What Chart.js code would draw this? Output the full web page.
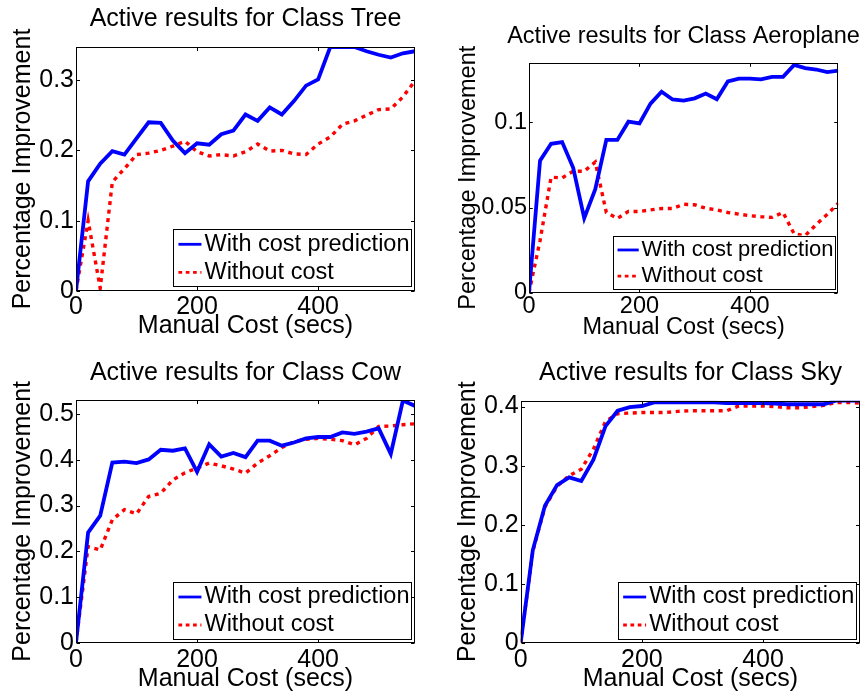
<!DOCTYPE html>
<html>
<head>
<meta charset="utf-8">
<script src="https://cdn.jsdelivr.net/npm/chart.js@4.4.1/dist/chart.umd.min.js"></script>
<style>
html,body{margin:0;padding:0;background:#fff;width:865px;height:698px;overflow:hidden;position:relative}
canvas{position:absolute}
</style>
</head>
<body>
<canvas id="c1" width="491" height="349" style="left:0px;top:0px"></canvas>
<canvas id="c2" width="503" height="349" style="left:432px;top:0px"></canvas>
<canvas id="c3" width="491" height="349" style="left:0px;top:349px"></canvas>
<canvas id="c4" width="517" height="349" style="left:432px;top:349px"></canvas>
<script>
// ---- data ----
const cost = [0,20,40,60,80,100,120,140,160,180,200,220,240,260,280,300,320,340,360,380,400,420,440,460,480,500,520,540,560];
const seriesLabels = ['With cost prediction', 'Without cost'];
const xTickValues = [0, 200, 400];

const treeWith    = [0,0.156,0.181,0.199,0.194,0.217,0.240,0.239,0.214,0.196,0.210,0.208,0.223,0.228,0.251,0.242,0.261,0.251,0.270,0.292,0.301,0.347,0.347,0.347,0.341,0.336,0.332,0.338,0.341];
const treeWithout = [0,0.100,0.004,0.155,0.174,0.194,0.196,0.200,0.206,0.213,0.198,0.192,0.194,0.192,0.198,0.209,0.199,0.200,0.195,0.194,0.209,0.219,0.237,0.242,0.250,0.258,0.259,0.276,0.299];
const treeTicks   = [0, 0.1, 0.2, 0.3];

const aeroWith    = [0,0.0775,0.0874,0.0884,0.0733,0.0438,0.0607,0.0897,0.0897,0.1004,0.0994,0.111,0.118,0.1134,0.1128,0.1141,0.1169,0.1136,0.124,0.1256,0.1256,0.1252,0.1267,0.1267,0.1337,0.1318,0.131,0.1295,0.1304];
const aeroWithout = [0,0.0306,0.0678,0.0674,0.0713,0.0713,0.0767,0.0471,0.0436,0.0477,0.0477,0.0486,0.0494,0.0494,0.0519,0.0516,0.0496,0.0486,0.0471,0.0461,0.0452,0.0446,0.0442,0.0471,0.0345,0.0335,0.040,0.046,0.0525];
const aeroTicks   = [0, 0.05, 0.1];

const cowWith     = [0,0.241,0.278,0.394,0.396,0.393,0.401,0.422,0.420,0.425,0.374,0.434,0.407,0.415,0.406,0.442,0.442,0.431,0.438,0.447,0.450,0.450,0.460,0.457,0.462,0.469,0.413,0.530,0.518];
const cowWithout  = [0,0.210,0.203,0.269,0.291,0.282,0.320,0.327,0.356,0.372,0.382,0.393,0.387,0.380,0.371,0.393,0.409,0.427,0.440,0.445,0.447,0.445,0.442,0.433,0.447,0.473,0.474,0.477,0.479];
const cowTicks    = [0, 0.1, 0.2, 0.3, 0.4, 0.5];

const skyWith     = [0,0.157,0.232,0.267,0.280,0.274,0.310,0.367,0.393,0.399,0.401,0.407,0.407,0.407,0.407,0.407,0.407,0.406,0.406,0.406,0.406,0.405,0.404,0.404,0.404,0.404,0.410,0.410,0.410];
const skyWithout  = [0,0.155,0.230,0.265,0.283,0.294,0.328,0.375,0.388,0.389,0.390,0.390,0.390,0.392,0.393,0.393,0.393,0.393,0.401,0.401,0.401,0.400,0.398,0.398,0.400,0.402,0.407,0.407,0.406];
const skyTicks    = [0, 0.1, 0.2, 0.3, 0.4];

const titles = ['Active results for Class Tree','Active results for Class Aeroplane','Active results for Class Cow','Active results for Class Sky'];
const xTitle = 'Manual Cost (secs)';
const yTitle = 'Percentage Improvement';

// ---- layout / style ----
const FONT = '"Liberation Sans", Arial, Helvetica, sans-serif';
const panels = [
  {id:'c1', title:titles[0], a:treeWith, b:treeWithout, yTicks:treeTicks, yMax:0.347, font:25, leg:23.5, tPad:[4,13],    yW:76,   rW:76,   xH:58,   xTickPad:1,   xTitlePad:7.7, yTitleX:23.5, legR:4,   legB:5},
  {id:'c2', title:titles[1], a:aeroWith, b:aeroWithout, yTicks:aeroTicks, yMax:0.135, font:23.5, leg:22, tPad:[22.8,11.7], yW:97,  rW:96.7, xH:56.3, xTickPad:0.2, xTitlePad:7.0, yTitleX:36.5, legR:3.3, legB:3.7},
  {id:'c3', title:titles[2], a:cowWith,  b:cowWithout,  yTicks:cowTicks,  yMax:0.531, font:25, leg:23.5, tPad:[9,12],    yW:76,   rW:76,   xH:55.3, xTickPad:2.3, xTitlePad:3.4, yTitleX:23.5, legR:4,   legB:4},
  {id:'c4', title:titles[3], a:skyWith,  b:skyWithout,  yTicks:skyTicks,  yMax:0.41,  font:25, leg:23.5, tPad:[9,12.7],  yW:88.7, rW:89,   xH:55.3, xTickPad:2.3, xTitlePad:3.4, yTitleX:36,   legR:4.3, legB:4}
];

function framePlugin(p) {
  return {
    id: 'frame_' + p.id,
    afterDatasetsDraw(chart) {
      const ctx = chart.ctx, a = chart.chartArea, sx = chart.scales.x, sy = chart.scales.y;
      const s = p.leg / 23.5;
      ctx.save();
      // legend
      ctx.font = p.leg + 'px ' + FONT;
      const tw = ctx.measureText(seriesLabels[0]).width;
      const bw = 31 * s + tw + 1.5, bh = 57 * s;
      const bx = a.right - p.legR - bw, by = a.bottom - p.legB - bh;
      ctx.fillStyle = '#fff';
      ctx.fillRect(bx, by, bw, bh);
      ctx.strokeStyle = '#000'; ctx.lineWidth = 1;
      ctx.strokeRect(Math.round(bx) + 0.5, Math.round(by) + 0.5, Math.round(bw), Math.round(bh));
      const rows = [by + 15.3 * s, by + 43.3 * s];
      const ds = chart.data.datasets;
      for (let i = 0; i < 2; i++) {
        ctx.beginPath();
        ctx.strokeStyle = ds[i].borderColor;
        ctx.lineWidth = 2.8;
        ctx.setLineDash(i === 0 ? [] : [3.7, 3.6]);
        ctx.moveTo(bx + 5, rows[i]); ctx.lineTo(bx + 28 * s, rows[i]);
        ctx.stroke();
        ctx.setLineDash([]);
        ctx.fillStyle = '#000';
        ctx.textAlign = 'left'; ctx.textBaseline = 'middle';
        ctx.fillText(ds[i].label, bx + 31 * s, rows[i]);
      }
      // frame box
      ctx.strokeStyle = '#000'; ctx.lineWidth = 1;
      const L = Math.round(a.left) + 0.5, R = Math.round(a.right) - 0.5, T = Math.round(a.top) + 0.5, B = Math.round(a.bottom) - 0.5;
      ctx.strokeRect(L, T, R - L, B - T);
      // inward tick marks on all four sides
      const tl = 3.5 * p.font / 25;
      ctx.beginPath();
      sx.ticks.forEach(t => {
        const px = Math.round(sx.getPixelForValue(t.value)) + 0.5;
        ctx.moveTo(px, B); ctx.lineTo(px, B - tl);
        ctx.moveTo(px, T); ctx.lineTo(px, T + tl);
      });
      sy.ticks.forEach(t => {
        const py = Math.round(sy.getPixelForValue(t.value)) + 0.5;
        ctx.moveTo(L, py); ctx.lineTo(L + tl, py);
        ctx.moveTo(R, py); ctx.lineTo(R - tl, py);
      });
      ctx.stroke();
      // y axis title (drawn here so it is not squeezed to the axis height)
      ctx.translate(p.yTitleX, (a.top + a.bottom) / 2);
      ctx.rotate(-Math.PI / 2);
      ctx.font = p.font + 'px ' + FONT;
      ctx.fillStyle = '#000'; ctx.textAlign = 'center'; ctx.textBaseline = 'middle';
      ctx.fillText(yTitle, 0, 0);
      ctx.restore();
    }
  };
}

function makeChart(p) {
  const f = {family: FONT, size: p.font, weight: 'normal'};
  new Chart(document.getElementById(p.id), {
    type: 'line',
    data: {
      datasets: [
        {label: seriesLabels[0], data: cost.map((x, i) => ({x: x, y: p.a[i]})), borderColor: '#0000ff', backgroundColor: '#0000ff', borderWidth: 3.8, pointRadius: 0, tension: 0, fill: false, clip: 0},
        {label: seriesLabels[1], data: cost.map((x, i) => ({x: x, y: p.b[i]})), borderColor: '#ff0000', backgroundColor: '#ff0000', borderWidth: 3.4, borderDash: [4, 4.6], pointRadius: 0, tension: 0, fill: false, clip: 0}
      ]
    },
    options: {
      responsive: false, animation: false, devicePixelRatio: 1,
      layout: {padding: 0},
      plugins: {
        legend: {display: false},
        tooltip: {enabled: false},
        title: {display: true, text: p.title, color: '#000', font: f, padding: {top: p.tPad[0], bottom: p.tPad[1]}, fullSize: true}
      },
      scales: {
        x: {
          type: 'linear', position: 'bottom', min: 0, max: 560,
          afterFit: sc => { sc.height = p.xH; },
          afterBuildTicks: sc => { sc.ticks = xTickValues.map(v => ({value: v})); },
          grid: {display: false, drawTicks: false}, border: {display: false},
          ticks: {color: '#000', font: f, padding: p.xTickPad, maxRotation: 0, autoSkip: false, callback: v => String(v)},
          title: {display: true, text: xTitle, color: '#000', font: f, padding: {top: 0, bottom: p.xTitlePad}}
        },
        y: {
          type: 'linear', position: 'left', min: 0, max: p.yMax,
          afterFit: sc => { sc.width = p.yW; },
          afterBuildTicks: sc => { sc.ticks = p.yTicks.map(v => ({value: v})); },
          grid: {display: false, drawTicks: false}, border: {display: false},
          ticks: {color: '#000', font: f, padding: 2, autoSkip: false, callback: v => String(v)}
        },
        yr: {
          type: 'linear', position: 'right', min: 0, max: p.yMax,
          afterFit: sc => { sc.width = p.rW; },
          grid: {display: false, drawTicks: false}, border: {display: false},
          ticks: {display: false}
        }
      }
    },
    plugins: [framePlugin(p)]
  });
}

panels.forEach(makeChart);
</script>
</body>
</html>
